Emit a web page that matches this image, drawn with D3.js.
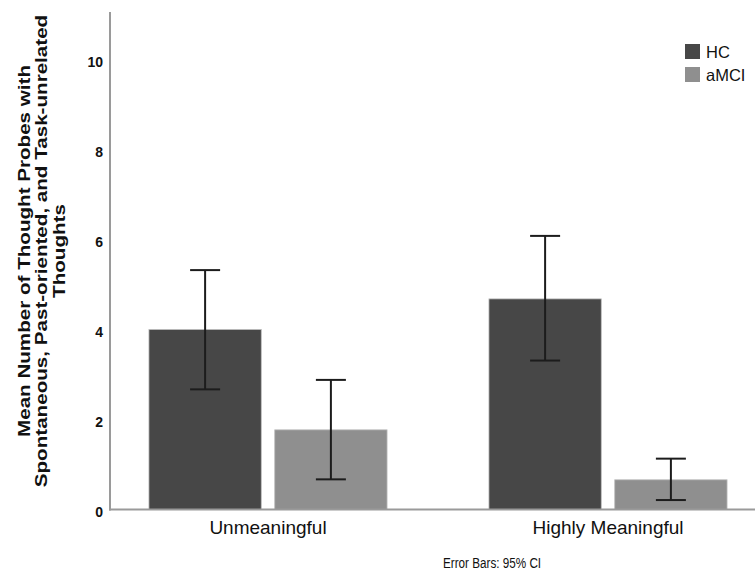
<!DOCTYPE html>
<html lang="en">
	<head>
		<meta charset="utf-8">
		<title>Thought probes bar chart</title>
		<script type="text/javascript" src="https://d3js.org/d3.v7.min.js"></script>
		<style type="text/css">
			body { margin: 0; background: #fff; }
			text { font-family: "Liberation Sans", Arial, sans-serif; }
		</style>
	</head>
	<body>
		<script type="text/javascript">

			//Data
			var categories = ["Unmeaningful", "Highly Meaningful"];
			var groups = ["HC", "aMCI"];
			var hcMean = [4.00, 4.68];
			var hcLow = [2.67, 3.31];
			var hcHigh = [5.32, 6.08];
			var amciMean = [1.77, 0.66];
			var amciLow = [0.67, 0.21];
			var amciHigh = [2.88, 1.13];
			var yTicks = [0, 2, 4, 6, 8, 10];
			var titleLines = ["Mean Number of Thought Probes with",
							  "Spontaneous, Past-oriented, and Task-unrelated",
							  "Thoughts"];

			var colors = { "HC": "#474747", "aMCI": "#8f8f8f" };

			//Width and height
			var w = 755;
			var h = 574;

			var rows = [];
			categories.forEach(function(c, i) {
				rows.push({ cat: c, group: "HC", mean: hcMean[i], low: hcLow[i], high: hcHigh[i] });
				rows.push({ cat: c, group: "aMCI", mean: amciMean[i], low: amciLow[i], high: amciHigh[i] });
			});

			var svg = d3.select("body")
						.append("svg")
						.attr("width", w)
						.attr("height", h);

			var y = d3.scaleLinear().domain([0, 11]).range([509.5, 14.5]);
			var x0 = d3.scaleBand().domain(categories).range([98, 778]).padding(0);
			var x1 = d3.scaleBand().domain(groups).range([0, x0.bandwidth()])
						.paddingInner(0.107).paddingOuter(0.405);

			//Bars
			svg.selectAll("rect.bar")
			   .data(rows)
			   .enter()
			   .append("rect")
			   .attr("class", "bar")
			   .attr("x", function(d) { return x0(d.cat) + x1(d.group); })
			   .attr("y", function(d) { return y(d.mean); })
			   .attr("width", x1.bandwidth())
			   .attr("height", function(d) { return y(0) - y(d.mean); })
			   .attr("fill", function(d) { return colors[d.group]; })
			   .attr("stroke", "#bdbdbd")
			   .attr("stroke-width", 0.8);

			//Error bars
			var cap = 15;
			var eb = svg.selectAll("g.err")
						.data(rows)
						.enter()
						.append("g")
						.attr("class", "err")
						.attr("stroke", "#1c1c1c")
						.attr("stroke-width", 2);
			function cx(d) { return x0(d.cat) + x1(d.group) + x1.bandwidth() / 2; }
			eb.append("line")
			  .attr("x1", cx).attr("x2", cx)
			  .attr("y1", function(d) { return y(d.low); })
			  .attr("y2", function(d) { return y(d.high); });
			eb.append("line")
			  .attr("x1", function(d) { return cx(d) - cap; })
			  .attr("x2", function(d) { return cx(d) + cap; })
			  .attr("y1", function(d) { return y(d.high); })
			  .attr("y2", function(d) { return y(d.high); });
			eb.append("line")
			  .attr("x1", function(d) { return cx(d) - cap; })
			  .attr("x2", function(d) { return cx(d) + cap; })
			  .attr("y1", function(d) { return y(d.low); })
			  .attr("y2", function(d) { return y(d.low); });

			//Axes lines
			svg.append("line")
			   .attr("x1", 110).attr("x2", 110)
			   .attr("y1", 12).attr("y2", y(0) + 1)
			   .attr("stroke", "#9a9a9a").attr("stroke-width", 2);
			svg.append("line")
			   .attr("x1", 109).attr("x2", w)
			   .attr("y1", y(0)).attr("y2", y(0))
			   .attr("stroke", "#9a9a9a").attr("stroke-width", 2);

			//Y tick labels
			var yAxis = svg.append("g")
						   .attr("transform", "translate(110,3)")
						   .call(d3.axisLeft(y).tickValues(yTicks).tickSize(0).tickPadding(7));
			yAxis.select(".domain").remove();
			yAxis.selectAll("text")
				 .attr("font-family", "Liberation Sans, Arial, sans-serif")
				 .attr("font-size", "14px")
				 .attr("font-weight", "bold")
				 .attr("fill", "#111");

			//X labels
			svg.selectAll("text.xlab")
			   .data(categories)
			   .enter()
			   .append("text")
			   .attr("class", "xlab")
			   .attr("x", function(d) { return x0(d) + x0.bandwidth() / 2; })
			   .attr("y", 534)
			   .attr("text-anchor", "middle")
			   .attr("font-size", "19px")
			   .attr("fill", "#111")
			   .text(function(d) { return d; });

			//Y title (stretched along its length like the source image)
			var yt = svg.append("text")
						.attr("transform", "translate(0,251) rotate(-90) scale(1.25,1)")
						.attr("text-anchor", "middle")
						.attr("font-size", "16.5px")
						.attr("font-weight", "bold")
						.attr("fill", "#111");
			yt.selectAll("tspan")
			  .data(titleLines)
			  .enter()
			  .append("tspan")
			  .attr("x", 0)
			  .attr("y", function(d, i) { return 30 + i * 17.5; })
			  .text(function(d) { return d; });

			//Legend
			var lg = svg.selectAll("g.leg")
						.data(groups)
						.enter()
						.append("g")
						.attr("class", "leg")
						.attr("transform", function(d, i) { return "translate(685," + (44 + i * 23) + ")"; });
			lg.append("rect")
			  .attr("width", 15).attr("height", 15)
			  .attr("fill", function(d) { return colors[d]; });
			lg.append("text")
			  .attr("x", 21).attr("y", 14)
			  .attr("font-size", "16.5px")
			  .attr("fill", "#111")
			  .text(function(d) { return d; });

			//Footnote
			svg.append("text")
			   .attr("transform", "translate(443,568) scale(0.78,1)")
			   .attr("font-size", "15px")
			   .attr("fill", "#111")
			   .text("Error Bars: 95% CI");

		</script>
	</body>
</html>
